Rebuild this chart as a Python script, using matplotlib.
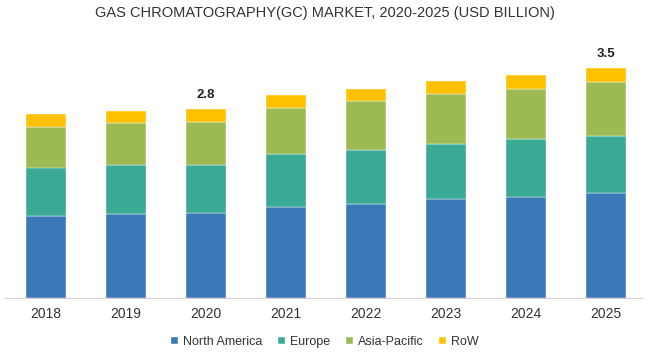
import matplotlib
matplotlib.use("Agg")
import matplotlib.pyplot as plt
import numpy as np

years = ["2018", "2019", "2020", "2021", "2022", "2023", "2024", "2025"]
north_america = [1.234, 1.259, 1.274, 1.370, 1.419, 1.486, 1.521, 1.576]
europe = [0.729, 0.744, 0.729, 0.796, 0.811, 0.831, 0.865, 0.870]
asia_pacific = [0.619, 0.634, 0.649, 0.689, 0.735, 0.760, 0.766, 0.815]
row = [0.196, 0.186, 0.192, 0.207, 0.186, 0.186, 0.207, 0.207]
series_names = ["North America", "Europe", "Asia-Pacific", "RoW"]
colors = ["#3A78B7", "#3AAA94", "#9DBA52", "#FFC000"]
annotations = {"2020": "2.8", "2025": "3.5"}
title = "GAS CHROMATOGRAPHY(GC) MARKET, 2020-2025 (USD BILLION)"

plt.rcParams["font.family"] = ["Liberation Sans", "DejaVu Sans"]

fig = plt.figure(figsize=(6.5, 3.59), dpi=100)
ax = fig.add_axes([5/650, 1 - 297.5/359, 637/650, (297.5 - 40)/359])

x = np.arange(len(years))
bottom = np.zeros(len(years))
data = [north_america, europe, asia_pacific, row]
for vals, name, c in zip(data, series_names, colors):
    ax.bar(x, vals, width=0.5, bottom=bottom, color=c, label=name,
           edgecolor="white", linewidth=0.3)
    bottom += np.array(vals)

for i, y in enumerate(years):
    if y in annotations:
        ax.text(i, bottom[i] + 0.12, annotations[y], ha="center", va="bottom",
                fontsize=9.5, fontweight="bold", color="#222222")

ax.set_xlim(-0.5125, 7.45)
ax.set_ylim(0, 257.5 * 0.0151)
ax.set_xticks(x)
ax.set_xticklabels(years, fontsize=10, color="#333333")
ax.tick_params(axis="x", length=0, pad=7)
ax.set_yticks([])
for s in ["top", "right", "left"]:
    ax.spines[s].set_visible(False)
ax.spines["bottom"].set_color("#D0D0D0")

fig.text(0.5, 1 - 12.5/359, title, ha="center", va="center", fontsize=10.5,
         color="#333333")

leg = fig.legend(loc="center", bbox_to_anchor=(0.5, 1 - 342/359), ncol=4,
                 frameon=False, fontsize=9, handlelength=0.55, handleheight=0.55,
                 handletextpad=0.4, columnspacing=1.25)
for t in leg.get_texts():
    t.set_color("#333333")

fig.savefig("out.png", dpi=100)
